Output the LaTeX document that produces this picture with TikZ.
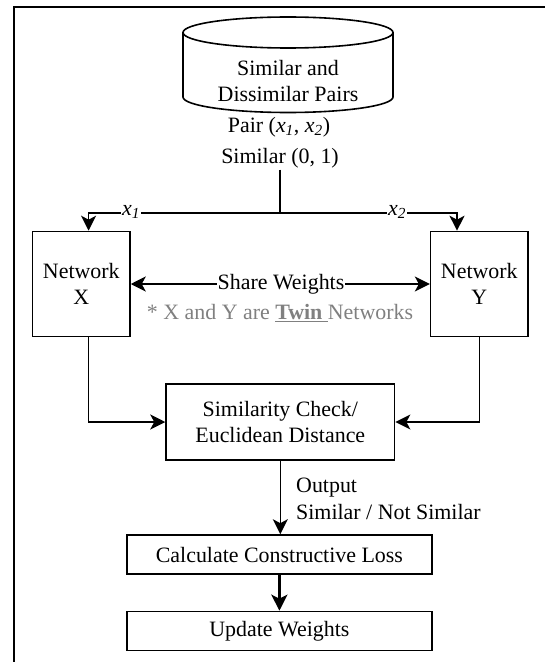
\documentclass[tikz,border=0pt]{standalone}
\usepackage{fontspec}
\setmainfont{Liberation Serif}
\usetikzlibrary{arrows.meta}
\begin{document}
\begin{tikzpicture}[x=1bp,y=-1bp,
  every node/.style={font=\fontsize{22}{26.5}\selectfont, inner sep=0pt},
  box/.style={draw, line width=1.6bp, align=center},
  lab/.style={align=center, inner sep=1.5bp},
  con/.style={line width=1.6bp},
  tip/.tip={Stealth[length=15bp,width=15bp,inset=4bp]},
  arr/.style={con, -tip},
  darr/.style={con, tip-tip},
  onl/.style={fill=white, inner sep=1bp},
]
\useasboundingbox (0,0) rectangle (545,662);
\draw[line width=2bp] (545,7) -- (14,7) -- (14,662);
% database cylinder
\draw[line width=1.6bp] (288,32.5) ellipse [x radius=105, y radius=15.5];
\draw[line width=1.6bp] (183,32.5) -- (183,97) arc[start angle=180, end angle=0, x radius=105, y radius=15.5] -- (393,32.5);
\node[lab] (db) at (288,81) {Similar and\\Dissimilar Pairs};
\node[lab] (pair) at (279,127) {Pair (\textit{x\textsubscript{1}}, \textit{x\textsubscript{2}})};
\node[lab] (sim01) at (280,158) {Similar (0, 1)};
\coordinate (j) at (280,213);
\draw[con] (sim01.south) -- (j);
% networks
\node[box, minimum width=97.3bp, minimum height=105bp] (nx) at (81.3,284) {Network\\X};
\node[box, minimum width=97.3bp, minimum height=105bp] (ny) at (479.3,284) {Network\\Y};
\draw[arr] (j) -| ([xshift=7.3bp]nx.north);
\draw[arr] (j) -| ([xshift=-22.3bp]ny.north);
\node[onl] (x1) at (131,212) {\textit{x\textsubscript{1}}};
\node[onl] (x2) at (397,212) {\textit{x\textsubscript{2}}};
\draw[darr] (nx.east) -- (ny.west);
\node[onl] (share) at (281,284) {Share Weights};
\node[text=black!50] (twin) at (280,313) {* X and Y are \underline{\textbf{Twin}\ }Networks};
% similarity
\node[box, minimum width=228.5bp, minimum height=76bp] (sc) at (280.3,422) {Similarity Check/\\Euclidean Distance};
\draw[arr] ([xshift=7.3bp]nx.south) |- (sc.west);
\draw[arr] (ny.south) |- (sc.east);
\node[box, minimum width=304.7bp, minimum height=39bp] (calc) at (279.4,554.5) {Calculate Constructive Loss};
\draw[arr] (sc.south) -- (sc.south |- calc.north);
\node[align=left, anchor=west] (out) at (296,499) {Output\\Similar / Not Similar};
\node[box, minimum width=304.7bp, minimum height=39bp] (upd) at (279.4,631) {Update Weights};
\draw[line width=3bp, -{Stealth[length=16bp,width=16bp,inset=4bp]}] (calc) -- (upd);
\end{tikzpicture}
\end{document}
